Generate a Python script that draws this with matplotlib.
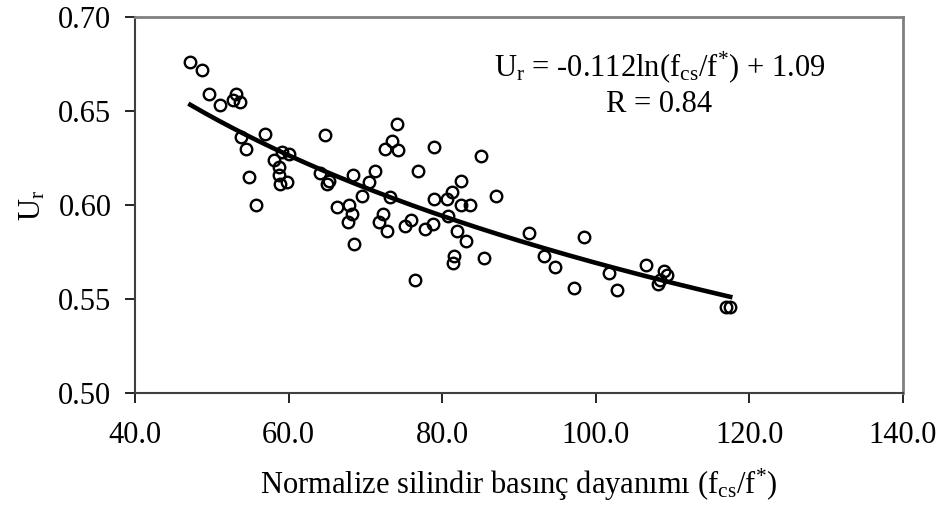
import numpy as np
import matplotlib
matplotlib.use("Agg")
import matplotlib.pyplot as plt

plt.rcParams['font.family'] = ['Liberation Serif', 'DejaVu Serif']
plt.rcParams['mathtext.fontset'] = 'custom'
plt.rcParams['mathtext.rm'] = 'Liberation Serif'
plt.rcParams['mathtext.it'] = 'Liberation Serif:italic'

x_vals = [47.2, 48.7, 49.6, 51.1, 53.1, 52.8, 53.7, 56.9, 53.8, 54.4, 54.9, 55.8,
          58.1, 59.1, 60.0, 58.75, 58.75, 58.9, 59.75, 64.8, 64.1, 65.3, 65.0, 66.3,
          67.7, 74.1, 73.5, 72.5, 74.2, 78.9, 85.1, 76.85, 71.25, 68.4, 70.5, 82.45,
          81.3, 80.6, 82.4, 83.6, 78.9, 87.0, 69.6, 73.2, 67.8, 68.3, 72.3, 71.8,
          72.8, 75.9, 75.2, 77.8, 78.8, 80.7, 81.9, 83.1, 68.5, 81.5, 81.4, 85.5,
          76.4, 91.25, 98.4, 93.25, 94.7, 97.1, 101.7, 102.7, 106.6, 108.9, 109.3,
          108.4, 108.1, 116.95, 117.5]
y_vals = [0.676, 0.672, 0.659, 0.653, 0.659, 0.656, 0.655, 0.638, 0.636, 0.630, 0.615, 0.600,
          0.624, 0.628, 0.627, 0.620, 0.616, 0.611, 0.612, 0.637, 0.617, 0.613, 0.611, 0.599,
          0.591, 0.643, 0.634, 0.630, 0.629, 0.631, 0.626, 0.618, 0.618, 0.616, 0.612, 0.613,
          0.607, 0.603, 0.600, 0.600, 0.603, 0.605, 0.605, 0.604, 0.600, 0.595, 0.595, 0.591,
          0.586, 0.592, 0.589, 0.587, 0.590, 0.594, 0.586, 0.581, 0.579, 0.573, 0.569, 0.572,
          0.560, 0.585, 0.583, 0.573, 0.567, 0.556, 0.564, 0.555, 0.568, 0.565, 0.563,
          0.560, 0.558, 0.546, 0.546]

trend_a = -0.112
trend_b = 1.085

x_ticks = [40.0, 60.0, 80.0, 100.0, 120.0, 140.0]
y_ticks = [0.50, 0.55, 0.60, 0.65, 0.70]

FS = 22

fig = plt.figure(figsize=(9.42, 5.08), dpi=100)
ax = fig.add_axes([135/942, 1-393/508, (903-135)/942, (393-17)/508])

xs = np.array(x_vals)
xt = np.linspace(xs.min(), xs.max(), 200)
ax.plot(xt, trend_a*np.log(xt) + trend_b, color='black', lw=3.3, zorder=3)
ax.plot(x_vals, y_vals, linestyle='none', marker='o', markersize=8.3,
        markerfacecolor='none', markeredgecolor='black', markeredgewidth=1.7, zorder=4)

ax.set_xlim(40, 140)
ax.set_ylim(0.50, 0.70)
ax.set_xticks(x_ticks)
ax.set_yticks(y_ticks)
ax.set_xticklabels([f"{v:.1f}" for v in x_ticks])
ax.set_yticklabels([f"{v:.2f}" for v in y_ticks])
ax.tick_params(axis='both', direction='out', length=7, width=1.2, labelsize=FS, color='black')
ax.tick_params(axis='y', pad=10)
ax.tick_params(axis='x', pad=13)

for s in ['top', 'right']:
    ax.spines[s].set_color('#808080')
    ax.spines[s].set_linewidth(2)
for s in ['left', 'bottom']:
    ax.spines[s].set_color('#404040')
    ax.spines[s].set_linewidth(1.5)

ax.set_xlabel(r"Normalize silindir basınç dayanımı (f$_\mathrm{cs}$/f$^{*}$)", fontsize=FS, labelpad=12)
ax.set_ylabel(r"U$_\mathrm{r}$", fontsize=FS, labelpad=8)

ax.text(108.3, 0.6685, r"U$_\mathrm{r}$ = -0.112ln(f$_\mathrm{cs}$/f$^{*}$) + 1.09",
        fontsize=FS, ha='center', va='baseline')
ax.text(108.3, 0.6495, "R = 0.84", fontsize=FS, ha='center', va='baseline')

fig.savefig("out.png", dpi=100)
